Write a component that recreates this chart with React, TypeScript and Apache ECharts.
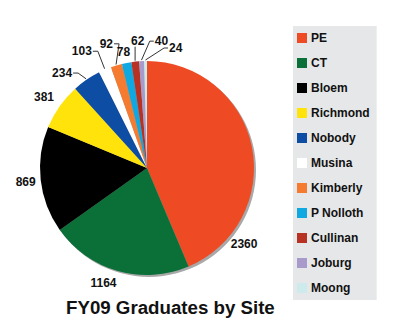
import React, { useEffect, useRef } from "react";
import * as echarts from "echarts";

const categories = ["PE", "CT", "Bloem", "Richmond", "Nobody", "Musina", "Kimberly", "P Nolloth", "Cullinan", "Joburg", "Moong"];
const values = [2360, 1164, 869, 381, 234, 103, 92, 78, 62, 40, 24];
const colors = ["#EE4B25", "#0A7038", "#000000", "#FFE30A", "#0E4DA4", "#FFFFFF", "#F47B30", "#10A8E0", "#B83224", "#A89BCB", "#CDEBED"];
const titleText = "FY09 Graduates by Site";

const FONT = "'Liberation Sans', Arial, sans-serif";
const CENTER = [147, 168];
const RADIUS = 107;
// label nudges (style only) relative to ECharts' default outside placement
const LABEL_NUDGE: [number, number][] = [
  [-40, 99], [12, 4], [14, 1], [12, -5], [1, 0], [1, -11], [10, -14], [16, -3], [21, -13], [38, -12], [48, -5],
];
const SHOW_LINE = [false, false, false, false, true, true, true, false, true, true, true];

export default function App() {
  const ref = useRef<HTMLDivElement>(null);
  useEffect(() => {
    document.body.style.margin = "0";
    const chart = echarts.init(ref.current!, null, { renderer: "svg" });
    const total = values.reduce((a, b) => a + b, 0);
    const mids: number[] = [];
    let acc = 0;
    values.forEach((v) => {
      mids.push(((acc + v / 2) / total) * Math.PI * 2);
      acc += v;
    });
    const data = categories.map((name, i) => ({
      name,
      value: values[i],
      itemStyle: { color: colors[i] },
      labelLine: { show: SHOW_LINE[i] },
    }));
    chart.setOption({
      animation: false,
      backgroundColor: "#ffffff",
      textStyle: { fontFamily: FONT },
      title: {
        text: titleText,
        left: 66,
        top: 298,
        padding: 0,
        textStyle: { fontFamily: FONT, fontSize: 18.7, fontWeight: "bold", color: "#111" },
      },
      legend: {
        orient: "vertical",
        left: 293,
        top: 26,
        data: categories,
        backgroundColor: "#E6E7E8",
        padding: [5, 7, 5, 4],
        itemWidth: 10,
        itemHeight: 10,
        itemGap: 11,
        icon: "rect",
        selectedMode: false,
        textStyle: { fontFamily: FONT, fontSize: 12, fontWeight: "bold", color: "#111", lineHeight: 14, padding: [0, 0, 0, -1] },
      },
      series: [
        {
          type: "pie",
          silent: true,
          center: [CENTER[0] + 2, CENTER[1] + 2],
          radius: RADIUS,
          z: 1,
          label: { show: false },
          labelLine: { show: false },
          itemStyle: { color: "#A8A8A8" },
          data: [{ name: "shadow", value: 1 }],
          legendHoverLink: false,
        },
        {
          type: "pie",
          z: 2,
          center: CENTER,
          radius: RADIUS,
          startAngle: 90,
          clockwise: true,
          avoidLabelOverlap: false,
          label: {
            show: true,
            position: "outside",
            formatter: "{c}",
            fontFamily: FONT,
            fontSize: 12,
            fontWeight: "bold",
            color: "#111",
          },
          labelLine: { show: true, length: 8, length2: 6, lineStyle: { color: "#333", width: 1 } },
          labelLayout: (p: any) => {
            const i = p.dataIndex;
            const n = LABEL_NUDGE[i] || [0, 0];
            const r = p.labelRect;
            const L = r.x + n[0];
            const R = L + r.width;
            const T = r.y + n[1];
            const B = T + r.height;
            const my = (T + B) / 2;
            const a = mids[i];
            const ax = CENTER[0] + Math.sin(a) * (RADIUS + 1);
            const ay = CENTER[1] - Math.cos(a) * (RADIUS + 1);
            let pts: number[][];
            if (ax > R + 3) {
              pts = [[ax, ay], [R + 6, my], [R + 1, my]];
            } else if (ax < L - 3) {
              pts = [[ax, ay], [L - 5, my], [L - 1, my]];
            } else {
              pts = [[ax, ay], [Math.min(Math.max(ax, L + 2), R - 2), B]];
            }
            return { hideOverlap: false, dx: n[0], dy: n[1], labelLinePoints: pts };
          },
          data,
        },
      ],
    });
    return () => chart.dispose();
  }, []);
  return <div ref={ref} style={{ width: 400, height: 331 }} />;
}
